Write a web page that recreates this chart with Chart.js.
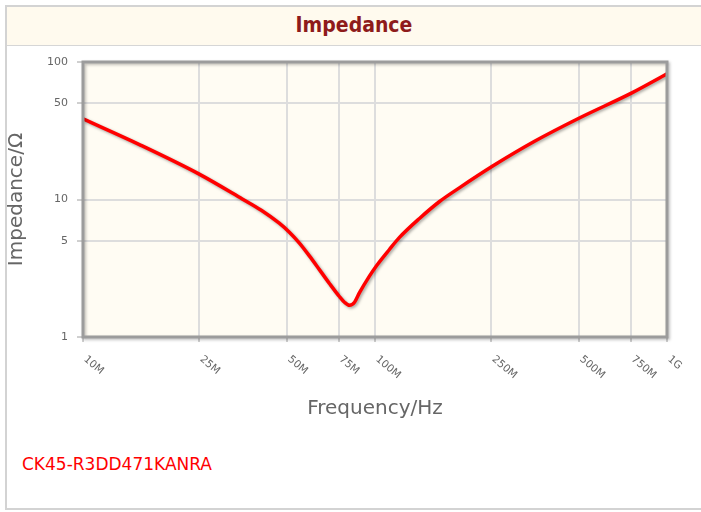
<!DOCTYPE html>
<html>
<head>
<meta charset="utf-8">
<script src="https://cdn.jsdelivr.net/npm/chart.js@4.4.1/dist/chart.umd.min.js"></script>
<style>
  html, body { margin: 0; padding: 0; background: #fff; }
  body { width: 701px; height: 512px; position: relative; overflow: hidden; }
  .frame { position: absolute; left: 5px; top: 5px; width: 704px; height: 505px;
           border: 2px solid #d3d3d3; box-sizing: border-box; }
  .header { position: absolute; left: 7px; top: 7px; width: 694px; height: 38px;
            background: #fffaee; border-bottom: 1px solid #d6d6d6; }
  .title { position: absolute; left: 7px; top: 13px; width: 694px; height: 30px;
           line-height: 30px; text-align: center; color: #8e1b1b;
           font: bold 21px "DejaVu Sans Condensed", "DejaVu Sans", sans-serif; }
  .part { position: absolute; left: 22px; top: 454px; line-height: 20px; color: #ff0000;
          font: 17px "DejaVu Sans", sans-serif; }
  canvas { position: absolute; left: 0; top: 0; }
</style>
</head>
<body>
<div class="frame"></div>
<div class="header"></div>
<div class="title">Impedance</div>
<div class="part">CK45-R3DD471KANRA</div>
<canvas id="impedanceChart" width="701" height="512"></canvas>
<script>
// frequency in MHz, impedance in ohm
var freqMHz = [10, 15.6, 25, 35.1, 40.8, 47, 50.9, 55.1, 59.6, 64.5, 69.8, 75.5, 78.6, 81.8,
               85.1, 88.5, 95.7, 101.2, 112, 121.3, 142, 166.4, 195, 253, 352, 503, 758, 1000];
var impedance = [38.6, 25.1, 15.3, 10.1, 8.35, 6.72, 5.78, 4.82, 3.89, 3.09, 2.45, 1.97, 1.79, 1.70,
                 1.79, 2.10, 2.77, 3.30, 4.33, 5.30, 7.28, 9.67, 12.2, 17.5, 26.5, 39.3, 59.6, 82];
var xTickValues = [10, 25, 50, 75, 100, 250, 500, 750, 1000];
var xTickLabels = ["10M", "25M", "50M", "75M", "100M", "250M", "500M", "750M", "1G"];
var yTickValues = [1, 5, 10, 50, 100];

var points = freqMHz.map(function (f, i) {
  return { x: f, y: impedance[i] };
});

var plotFrame = {
  id: "plotFrame",
  beforeDraw: function (chart) {
    var ctx = chart.ctx, a = chart.chartArea;
    ctx.save();
    ctx.fillStyle = "#fffcf3";
    ctx.fillRect(a.left, a.top, a.right - a.left, a.bottom - a.top);
    ctx.restore();
  },
  beforeDatasetsDraw: function (chart) {
    var ctx = chart.ctx;
    ctx.save();
    ctx.shadowColor = "rgba(0,0,0,0.35)";
    ctx.shadowBlur = 3;
    ctx.shadowOffsetX = 1.5;
    ctx.shadowOffsetY = 1.5;
  },
  afterDatasetsDraw: function (chart) {
    chart.ctx.restore();
  },
  afterDraw: function (chart) {
    var ctx = chart.ctx, a = chart.chartArea;
    ctx.save();
    ctx.shadowColor = "rgba(0,0,0,0.25)";
    ctx.shadowBlur = 3;
    ctx.shadowOffsetX = 1.5;
    ctx.shadowOffsetY = 1.5;
    ctx.strokeStyle = "#9c9c9c";
    ctx.lineWidth = 3;
    ctx.strokeRect(a.left, a.top, a.right - a.left, a.bottom - a.top);
    ctx.restore();

    // rotated frequency labels, starting at the tick and running down-right
    var xScale = chart.scales.x;
    ctx.save();
    ctx.fillStyle = "#666666";
    ctx.font = "10.5px 'DejaVu Sans'";
    ctx.textAlign = "left";
    ctx.textBaseline = "middle";
    xTickValues.forEach(function (v, i) {
      var px = xScale.getPixelForValue(v);
      ctx.save();
      ctx.translate(px + 2, a.bottom + 21);
      ctx.rotate((40 * Math.PI) / 180);
      ctx.fillText(xTickLabels[i], 0, 0);
      ctx.restore();
    });
    ctx.restore();
  },
};

new Chart(document.getElementById("impedanceChart").getContext("2d"), {
  type: "line",
  data: {
    datasets: [
      {
        label: "Impedance",
        data: points,
        borderColor: "#ff0000",
        borderWidth: 3.5,
        pointRadius: 0,
        fill: false,
        cubicInterpolationMode: "monotone",
      },
    ],
  },
  options: {
    responsive: false,
    animation: false,
    layout: { padding: { left: 0, right: 34, top: 62, bottom: 75 } },
    plugins: {
      legend: { display: false },
      tooltip: { enabled: false },
    },
    scales: {
      x: {
        type: "logarithmic",
        min: 10,
        max: 1000,
        afterBuildTicks: function (scale) {
          scale.ticks = xTickValues.map(function (v) { return { value: v }; });
        },
        afterFit: function (scale) { scale.height = 100; },
        ticks: { display: false },
        grid: { color: "#dddddd", lineWidth: 2, tickColor: "#a0a0a0", tickLength: 5, tickWidth: 1 },
        border: { display: false },
        title: {
          display: true,
          text: "Frequency/Hz",
          color: "#666666",
          font: { family: "DejaVu Sans", size: 20 },
          padding: { top: 0, bottom: 16 },
        },
      },
      y: {
        type: "logarithmic",
        min: 1,
        max: 100,
        afterBuildTicks: function (scale) {
          scale.ticks = yTickValues.map(function (v) { return { value: v }; });
        },
        afterFit: function (scale) { scale.width = 83; },
        ticks: {
          color: "#666666",
          font: { family: "DejaVu Sans", size: 11 },
          padding: 9,
          callback: function (value) { return String(value); },
        },
        grid: { color: "#dddddd", lineWidth: 2, tickColor: "#a0a0a0", tickLength: 6, tickWidth: 1 },
        border: { display: false },
        title: {
          display: true,
          text: "Impedance/Ω",
          color: "#666666",
          font: { family: "DejaVu Sans", size: 20 },
          padding: { top: 5, bottom: 0 },
        },
      },
    },
  },
  plugins: [plotFrame],
});
</script>
</body>
</html>
